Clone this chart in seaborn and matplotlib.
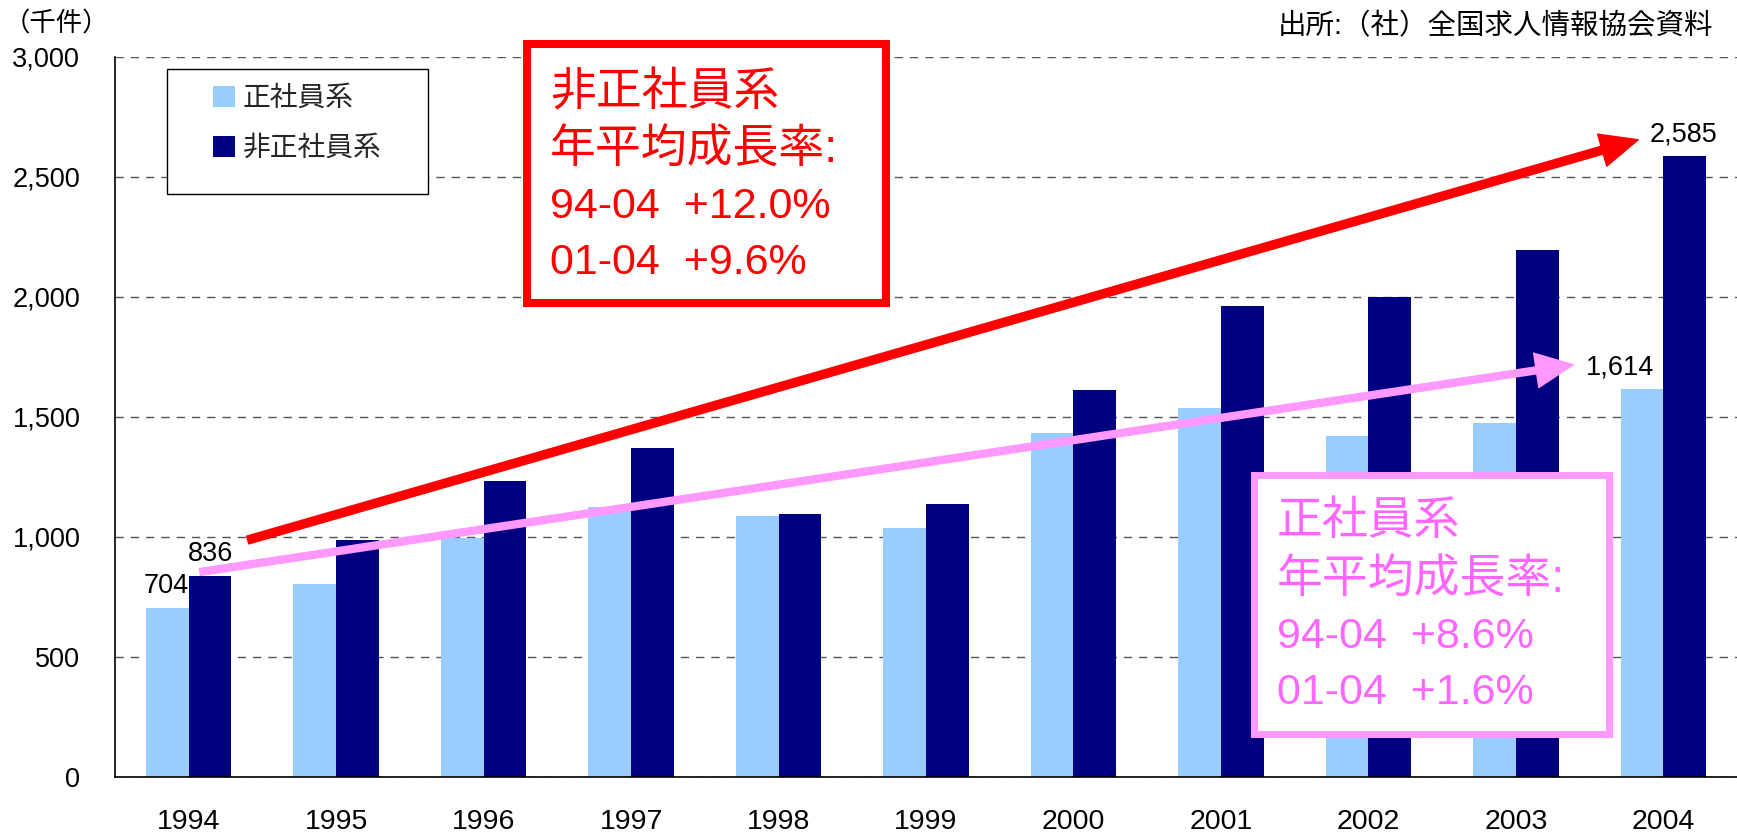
import matplotlib
matplotlib.use('Agg')
import matplotlib.pyplot as plt
import matplotlib.patches as mpatches
import seaborn as sns
import pandas as pd

# ====================== DATA ======================
years = ['1994', '1995', '1996', '1997', '1998', '1999',
         '2000', '2001', '2002', '2003', '2004']
regular = [704, 803, 996, 1126, 1088, 1038, 1434, 1537, 1421, 1475, 1614]
non_regular = [836, 987, 1233, 1371, 1097, 1135, 1612, 1960, 2001, 2193, 2585]
series_names = ['正社員系', '非正社員系']
colors = ['#99ccff', '#000080']
y_ticks = [0, 500, 1000, 1500, 2000, 2500, 3000]

red_note = ['非正社員系', '年平均成長率:', '94-04  +12.0%', '01-04  +9.6%']
pink_note = ['正社員系', '年平均成長率:', '94-04  +8.6%', '01-04  +1.6%']

df = pd.DataFrame({
    'year': years * 2,
    'value': regular + non_regular,
    'kind': [series_names[0]] * len(years) + [series_names[1]] * len(years),
})

# ====================== STYLE ======================
sns.set_theme(style='white')
plt.rcParams['font.family'] = ['Liberation Sans', 'Noto Sans CJK JP']

W, H = 1737, 832
fig = plt.figure(figsize=(W / 100, H / 100), dpi=100)


def fx(px):
    return px / W


def fy(py):
    return 1 - py / H


ax = fig.add_axes([fx(115), fy(777), fx(1622), 720.3 / H])

sns.barplot(data=df, x='year', y='value', hue='kind', order=years,
            hue_order=series_names, palette=colors, width=0.58,
            saturation=1, legend=False, ax=ax, zorder=2, linewidth=0)

ax.set_xlim(-0.5, len(years) - 0.5)
ax.set_ylim(0, 3000)
ax.set_yticks(y_ticks)
ax.set_yticklabels([f'{v:,}' for v in y_ticks], fontsize=19.5)
ax.set_xticklabels(years, fontsize=20.5)
ax.set_xlabel('')
ax.set_ylabel('')
ax.set_axisbelow(True)
ax.yaxis.grid(True, color='#555555', linestyle=(0, (6, 5)), linewidth=1)
ax.xaxis.grid(False)
for s in ['top', 'right']:
    ax.spines[s].set_visible(False)
for s in ['left', 'bottom']:
    ax.spines[s].set_color('black')
    ax.spines[s].set_linewidth(1.2)
ax.set_xticks([i + 0.5 for i in range(-1, len(years))], minor=True)
ax.tick_params(axis='x', which='major', length=0, pad=23, colors='black')
ax.tick_params(axis='x', which='minor', direction='in', length=6.5,
               width=0.8, color='#555555')
ax.tick_params(axis='y', length=0, pad=25, colors='black')

# value labels
light_bars = ax.containers[0]
dark_bars = ax.containers[1]


def bar_label(bar, text, dx=0):
    cx = bar.get_x() + bar.get_width() / 2
    ax.annotate(text, xy=(cx, bar.get_height()), xytext=(dx, 16),
                textcoords='offset points', ha='center', va='center',
                fontsize=19.5, color='black', zorder=6)


bar_label(light_bars[0], f'{regular[0]:,}', dx=-1)
bar_label(dark_bars[0], f'{non_regular[0]:,}')
bar_label(light_bars[-1], f'{regular[-1]:,}', dx=-16)
bar_label(dark_bars[-1], f'{non_regular[-1]:,}', dx=-1)

# trend arrows
ax.annotate('', xy=(9.83, 2654), xytext=(0.40, 987),
            arrowprops=dict(color='#ff0000', width=5.8, headwidth=24,
                            headlength=27, shrink=0), zorder=5)
ax.annotate('', xy=(9.39, 1717), xytext=(0.076, 854),
            arrowprops=dict(color='#ff99ff', width=5.0, headwidth=25,
                            headlength=27, shrink=0), zorder=5)

# legend with its own frame
fig.add_artist(mpatches.Rectangle((fx(167), fy(194)), fx(261), 125 / H,
                                  facecolor='white', edgecolor='black',
                                  linewidth=1, transform=fig.transFigure))
handles = [mpatches.Patch(facecolor=c, edgecolor='none') for c in colors]
leg = fig.legend(handles, series_names, loc='upper left',
                 bbox_to_anchor=(fx(213), fy(86)), frameon=False,
                 fontsize=20, handlelength=0.78, handleheight=0.78,
                 handletextpad=0.28, labelspacing=0.85, borderpad=0,
                 borderaxespad=0)
leg.set_zorder(5)

# note boxes
fig.add_artist(mpatches.Rectangle((fx(527), fy(303)), fx(359), 259 / H,
                                  facecolor='white', edgecolor='#ff0000',
                                  linewidth=5.8, transform=fig.transFigure,
                                  zorder=4))
fig.add_artist(mpatches.Rectangle((fx(1253.5), fy(733.5)), fx(355), 259 / H,
                                  facecolor='white', edgecolor='#ff99ff',
                                  linewidth=5.0, transform=fig.transFigure,
                                  zorder=4))

for i, (line, cy) in enumerate(zip(red_note, [93, 150, 207, 263])):
    fig.text(fx(550), fy(cy), line, color='#ff0000',
             fontsize=33 if i < 2 else 31, va='center', ha='left', zorder=6)
for i, (line, cy) in enumerate(zip(pink_note, [522, 580, 637, 693])):
    fig.text(fx(1277), fy(cy), line, color='#ff66ff',
             fontsize=33 if i < 2 else 31, va='center', ha='left', zorder=6)

# unit and source
fig.text(fx(4), fy(24), '（千件）', fontsize=19, va='center', ha='left',
         color='black')
fig.text(fx(1713), fy(27), '出所:（社）全国求人情報協会資料', fontsize=20.5,
         va='center', ha='right', color='black')

fig.savefig('out.png', dpi=100)
plt.close(fig)
